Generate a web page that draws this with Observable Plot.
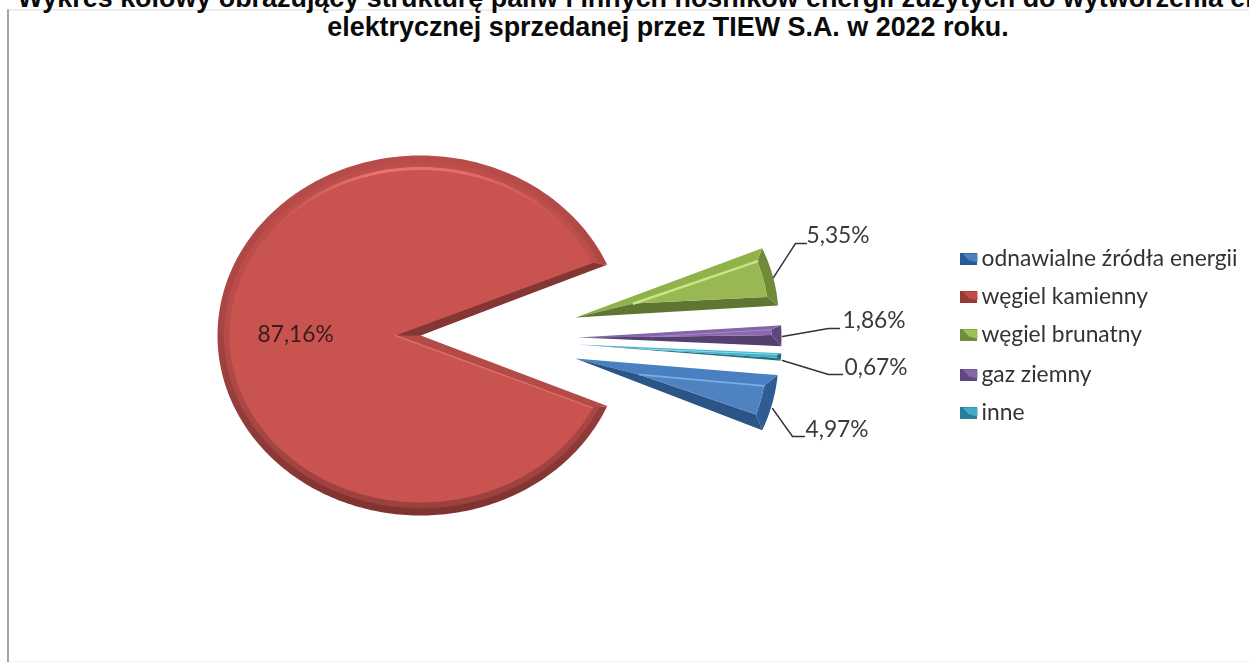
<!DOCTYPE html>
<html lang="pl">
<head>
<meta charset="utf-8">
<script src="https://cdn.jsdelivr.net/npm/d3@7"></script>
<script src="https://cdn.jsdelivr.net/npm/@observablehq/plot@0.6"></script>
<style>
html,body{margin:0;padding:0;background:#fff;width:1249px;height:662px;overflow:hidden;position:relative}
#chart{position:absolute;left:0;top:0}
.t{position:absolute;left:668px;transform:translateX(-50%);white-space:nowrap;font:bold 26.9px "Liberation Sans",Arial,sans-serif;color:#0a0a0a;line-height:30px;z-index:2}
#chart svg g[aria-label="line"],#chart svg g[aria-label="text"],#chart svg g[aria-label="rect"]{filter:blur(.5px)}
</style>
</head>
<body>
<div class="t" style="top:-17px">Wykres kołowy obrazujący strukturę paliw i innych nośników energii zużytych do wytworzenia energii</div>
<div class="t" style="top:12px">elektrycznej sprzedanej przez TIEW S.A. w 2022 roku.</div>
<div id="chart"></div>
<script>
// ---- data ----
const categories = ["odnawialne źródła energii", "węgiel kamienny", "węgiel brunatny", "gaz ziemny", "inne"];
const values = [4.97, 87.16, 5.35, 1.86, 0.67];
const valueLabels = ["4,97%", "87,16%", "5,35%", "1,86%", "0,67%"];

// ---- layout and style ----
const W = 1249, H = 662;
const rad = Math.PI / 180;
const firstSliceStart = 95.2 * rad;
const apexX = [575, 420, 575, 578, 578];
const apexY = [358, 335, 317, 337, 344];
const radiusX = [203, 203, 203, 203, 203];
const radiusY = [183, 180, 176, 178, 178];
const faceShift = [66, 25, 60, 72, 60];
const rimX = [12, 12, 10, 10, 4];
const rimY = [12, 13, 10, 10, 4];
const insetA = [4, 2.6, 3.4, 1.2, 0.5];
const insetB = [4, 2.6, 3.2, 3.6, 0.8];
const faceColor = ["#4f82c0", "#c8534f", "#97b853", "#8a69ae", "#3fb2c9"];
const edgeAColor = ["#4a7fc2", "#b34b48", "#8fb24a", "#8466a8", "#49b5cb"];
const edgeBColor = ["#2b5587", "#833634", "#5f7632", "#54406f", "#256f83"];
const rimColor = ["#2f5c92", "url(#redRim)", "#6f8b38", "#5d467c", "#1f6d82"];
const ridgeColor = ["#78aee8", "#df6e6a", "#c9e585", "#a184c4", "#8fe0ee"];
const ridgeWidth = [1.8, 1.4, 2.6, 1, 0.8];

const labelX = [805, 257, 806, 842, 844];
const labelY = [429, 334, 235, 320, 367];
const labelSize = 22.8;
const leaders = [
  [[772, 408], [792, 436], [804, 436]],
  [],
  [[773, 277], [795, 243], [806, 243]],
  [[782, 336], [828, 328], [839, 328]],
  [[782, 360], [828, 374], [842, 374]]
];
const legendY = [259, 297, 335, 375, 413];
const legendDark = ["#2a5a94", "#973a37", "#6f8d3a", "#5f4880", "#267f99"];
const legendLight = ["#4a80c0", "#c04a47", "#9cc05a", "#8466a8", "#45aac4"];
const legendSwatchX = [960, 977], legendTextX = 981, legendSize = 22.8;
const fontFamily = "Lato, 'Open Sans', sans-serif";

// ---- geometry from the values ----
const slices = d3.pie().sort(null).startAngle(firstSliceStart).endAngle(firstSliceStart + 2 * Math.PI)(values);
const pt = (cx, cy, rx, ry, t) => [cx + rx * Math.sin(t), cy - ry * Math.cos(t)];
const arcPts = (cx, cy, rx, ry, a, b) => {
  const n = Math.max(4, Math.ceil(Math.abs(b - a) / rad));
  return d3.range(n + 1).map(k => pt(cx, cy, rx, ry, a + (b - a) * k / n));
};

const polys = [], ridges = [], redRim = [];
let pid = 0;
const addPoly = (pts, fill) => { const id = pid++; pts.forEach(p => polys.push({id, x: p[0], y: p[1], fill})); };

slices.forEach((s, i) => {
  const ax = apexX[i], ay = apexY[i], rx = radiusX[i], ry = radiusY[i];
  const a = s.startAngle, b = s.endAngle, mid = (a + b) / 2;
  const ia = a + insetA[i] * rad, ib = b - insetB[i] * rad;
  const irx = rx - rimX[i], iry = ry - rimY[i];
  const F = [ax + faceShift[i] * Math.sin(mid), ay - faceShift[i] * Math.cos(mid)];
  const outer = arcPts(ax, ay, rx, ry, a, b);
  const inner = arcPts(ax, ay, irx, iry, ia, ib);
  const rimPts = [...outer, ...inner.slice().reverse()];
  if (i === 1) rimPts.forEach(p => redRim.push({x: p[0], y: p[1]}));
  else addPoly(rimPts, rimColor[i]);
  addPoly([[ax, ay], outer[0], inner[0], F], edgeAColor[i]);
  addPoly([[ax, ay], outer[outer.length - 1], inner[inner.length - 1], F], edgeBColor[i]);
  addPoly([F, ...inner], faceColor[i]);
  [F, inner[0]].forEach(p => ridges.push({id: i, x: p[0], y: p[1], stroke: ridgeColor[i], w: ridgeWidth[i]}));
});
// a softer step between the red rim and its face
const redMid = [[apexX[1], apexY[1]], ...arcPts(apexX[1], apexY[1], radiusX[1] - rimX[1] * .55, radiusY[1] - rimY[1] * .55,
  slices[1].startAngle + insetA[1] * .55 * rad, slices[1].endAngle - insetB[1] * .55 * rad)].map(p => ({x: p[0], y: p[1]}));
// the pink light on the top of the red slice's rim
const highlight = arcPts(apexX[1], apexY[1], radiusX[1] - rimX[1], radiusY[1] - rimY[1], 310 * rad, 410 * rad)
  .map(p => ({x: p[0], y: p[1]}));

const leaderRows = leaders.flatMap((l, i) => l.map(p => ({id: i, x: p[0], y: p[1]})));
const labelRows = valueLabels.map((t, i) => ({t, x: labelX[i], y: labelY[i], fill: i === 1 ? "#3a1c1c" : "#3a3a3a"}));
const legendRows = categories.map((t, i) => ({t, y: legendY[i], i}));
const legendFlaps = legendRows.flatMap(r => [
  [legendSwatchX[0] + 2, r.y - 6], [legendSwatchX[1], r.y - 6], [legendSwatchX[1], r.y + 3],
  [(legendSwatchX[0] + legendSwatchX[1]) / 2, r.y + 1]
].map(p => ({id: r.i, x: p[0], y: p[1], fill: legendLight[r.i]})));

const defs = () => {
  const svg = d3.create("svg:g");
  const d = svg.append("defs");
  const stopsV = (id, stops) => {
    const g = d.append("linearGradient").attr("id", id).attr("gradientUnits", "userSpaceOnUse")
      .attr("x1", 0).attr("y1", 155).attr("x2", 0).attr("y2", 515);
    stops.forEach(([o, c]) => g.append("stop").attr("offset", o).attr("stop-color", c));
  };
  stopsV("redRim", [[0, "#b84d4a"], [.45, "#a84542"], [1, "#7d3331"]]);
  stopsV("redMid", [[0, "#c04f4c"], [.45, "#b84c49"], [1, "#9b403d"]]);
  const h = d.append("linearGradient").attr("id", "redLight").attr("gradientUnits", "userSpaceOnUse")
    .attr("x1", 270).attr("y1", 0).attr("x2", 570).attr("y2", 0);
  [[0, 0], [.35, 1], [.65, .8], [1, 0]].forEach(([o, a]) =>
    h.append("stop").attr("offset", o).attr("stop-color", "#ea7570").attr("stop-opacity", a));
  return svg.node();
};

const chart = Plot.plot({
  width: W, height: H,
  margin: 0,
  style: {background: "transparent"},
  x: {domain: [0, W], range: [0, W], axis: null},
  y: {domain: [0, H], range: [0, H], axis: null},
  color: {type: "identity"},
  marks: [
    defs,
    Plot.ruleY([9.5], {x1: 7, x2: W, stroke: "#dcdcdc", strokeWidth: 1}),
    Plot.ruleY([661], {x1: 7, x2: W, stroke: "#f2f2f2", strokeWidth: 1}),
    Plot.ruleX([7.5], {y1: 9.5, y2: H, stroke: "#868686", strokeWidth: 1.5}),
    Plot.line(redRim, {x: "x", y: "y", fill: "url(#redRim)", stroke: "none", curve: "linear"}),
    Plot.line(redMid, {x: "x", y: "y", fill: "url(#redMid)", stroke: "none", curve: "linear"}),
    Plot.line(polys, {x: "x", y: "y", z: "id", fill: "fill", stroke: "none", curve: "linear"}),
    Plot.line(ridges, {x: "x", y: "y", z: "id", stroke: "stroke", strokeWidth: "w", curve: "linear"}),
    Plot.line(highlight, {x: "x", y: "y", stroke: "url(#redLight)", strokeWidth: 3, curve: "linear"}),
    Plot.line(leaderRows, {x: "x", y: "y", z: "id", stroke: "#333", strokeWidth: 1.4, curve: "linear"}),
    Plot.text(labelRows, {x: "x", y: "y", text: "t", textAnchor: "start", lineAnchor: "middle", fill: "fill", fontSize: labelSize, fontFamily}),
    Plot.rect(legendRows, {x1: legendSwatchX[0], x2: legendSwatchX[1], y1: d => d.y - 6, y2: d => d.y + 6, fill: d => legendDark[d.i]}),
    Plot.line(legendFlaps, {x: "x", y: "y", z: "id", fill: "fill", stroke: "none", curve: "linear"}),
    Plot.text(legendRows, {x: legendTextX, y: d => d.y - 1, text: "t", textAnchor: "start", lineAnchor: "middle", fill: "#333", fontSize: legendSize, fontFamily})
  ]
});
document.getElementById("chart").append(chart);
</script>
</body>
</html>
